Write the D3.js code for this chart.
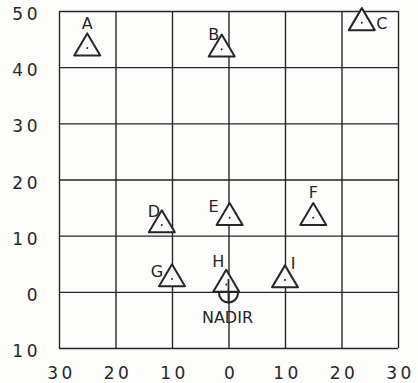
<!DOCTYPE html>
<html>
<head>
<meta charset="utf-8">
<script src="https://cdn.jsdelivr.net/npm/d3@7/dist/d3.min.js"></script>
<style>
  html, body { margin: 0; padding: 0; background: #fdfdfc; }
  svg { display: block; }
  text { font-family: "DejaVu Sans", sans-serif; fill: #262626; }
</style>
</head>
<body>
<svg id="chart" width="418" height="383"></svg>
<script>
// Station markers (triangles) on the photo grid, in grid units
const stations = ["A", "B", "C", "D", "E", "F", "G", "H", "I"];
const stationX = [-25, -1.2, 23.6, -11.8, 0.2, 15, -10, -0.4, 10];
const stationY = [43.4, 43.2, 47.9, 11.9, 13.2, 13.2, 2.3, 1.3, 2.1];

// Nadir point
const nadirX = [0];
const nadirY = [-0.2];
const nadirLabel = ["NADIR"];

// Grid ticks and their printed labels
const xTicks = [-30, -20, -10, 0, 10, 20, 30];
const xTickLabels = ["30", "20", "10", "0", "10", "20", "30"];
const yTicks = [50, 40, 30, 20, 10, 0, -10];
const yTickLabels = ["50", "40", "30", "20", "10", "0", "10"];

const svg = d3.select("#chart");
const ink = "#262626";

const x = d3.scaleLinear().domain([-30, 30]).range([59, 398]);
const y = d3.scaleLinear().domain([-10, 50]).range([348, 11]);

// Grid lines + left labels
const yAxis = d3.axisLeft(y)
  .tickValues(yTicks)
  .tickSize(-(x(30) - x(-30)))
  .tickPadding(18)
  .tickFormat((d, i) => yTickLabels[i]);

svg.append("g")
  .attr("transform", `translate(${x(-30)},0)`)
  .call(yAxis)
  .call(g => g.select(".domain").remove())
  .call(g => g.selectAll("line").attr("stroke", ink).attr("stroke-width", 1.4))
  .call(g => g.selectAll("text")
    .attr("dy", "0.5em")
    .style("font-size", "17px")
    .style("letter-spacing", "3.5px")
    .attr("fill", ink));

// Grid lines + bottom labels
const xAxis = d3.axisBottom(x)
  .tickValues(xTicks)
  .tickSize(-(y(-10) - y(50)))
  .tickPadding(19)
  .tickFormat((d, i) => xTickLabels[i]);

svg.append("g")
  .attr("transform", `translate(0,${y(-10)})`)
  .call(xAxis)
  .call(g => g.select(".domain").remove())
  .call(g => g.selectAll("line").attr("stroke", ink).attr("stroke-width", 1.4))
  .call(g => g.selectAll("text")
    .attr("dx", "0.12em")
    .style("font-size", "17px")
    .style("letter-spacing", "3.5px")
    .attr("fill", ink));

// Triangle marker: centroid at the station, apex up
const triW = 26, triH = 22;
const triPath = `M0,${-triH * 2 / 3} L${triW / 2},${triH / 3} L${-triW / 2},${triH / 3} Z`;

// Label placement around each triangle
const labelPos = {
  A: { dx: 0, dy: -25 },
  B: { dx: -8, dy: -15 },
  C: { dx: 20, dy: 0 },
  D: { dx: -8, dy: -14 },
  E: { dx: -16, dy: -11 },
  F: { dx: 0, dy: -25 },
  G: { dx: -15, dy: -8 },
  H: { dx: -8, dy: -23 },
  I: { dx: 8, dy: -17 }
};

const st = svg.append("g").selectAll("g")
  .data(stations.map((s, i) => ({ s, x: stationX[i], y: stationY[i] })))
  .join("g")
  .attr("transform", d => `translate(${x(d.x)},${y(d.y)})`);

st.append("path")
  .attr("d", triPath)
  .attr("fill", "#fdfdfc")
  .attr("stroke", ink)
  .attr("stroke-width", 2)
  .attr("stroke-linejoin", "round");

st.append("circle")
  .attr("r", 1)
  .attr("fill", ink);

st.append("text")
  .attr("x", d => labelPos[d.s].dx)
  .attr("y", d => labelPos[d.s].dy)
  .attr("dy", "0.36em")
  .attr("text-anchor", "middle")
  .style("font-size", "16px")
  .text(d => d.s);

// Nadir symbol: half circle hanging under the point, grid line runs through it
const nx = x(nadirX[0]), ny = y(nadirY[0]);
const r = 9.5;
const nadir = svg.append("g");
nadir.append("path")
  .attr("d", `M${nx - r},${ny} A${r},${r} 0 0 0 ${nx + r},${ny}`)
  .attr("fill", "none")
  .attr("stroke", ink)
  .attr("stroke-width", 2);
nadir.append("line")
  .attr("x1", nx).attr("x2", nx)
  .attr("y1", ny - 14).attr("y2", ny + r + 1)
  .attr("stroke", ink).attr("stroke-width", 1.8);
nadir.append("text")
  .attr("x", nx - 1)
  .attr("y", ny + 24)
  .attr("dy", "0.36em")
  .attr("text-anchor", "middle")
  .style("font-size", "16px")
  .text(nadirLabel[0]);
</script>
</body>
</html>
